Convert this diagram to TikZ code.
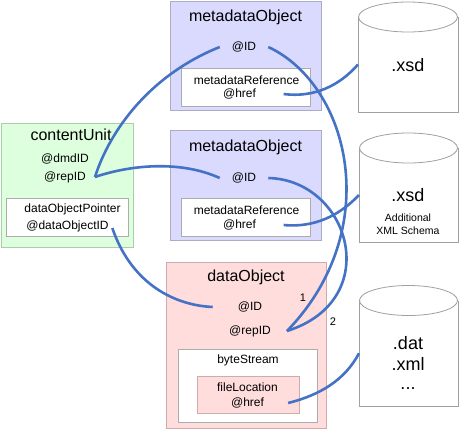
\documentclass[tikz,border=0pt]{standalone}
\usepackage{fontspec}
\setmainfont{Liberation Sans}
\definecolor{linkblue}{RGB}{68,114,196}
\definecolor{moFill}{RGB}{218,218,255}
\definecolor{moLine}{RGB}{172,172,200}
\definecolor{cuFill}{RGB}{221,255,221}
\definecolor{cuLine}{RGB}{172,204,172}
\definecolor{doFill}{RGB}{255,221,221}
\definecolor{doLine}{RGB}{204,172,172}
\definecolor{inLine}{RGB}{172,172,172}
\definecolor{cylLine}{RGB}{160,160,160}
\begin{document}
\begin{tikzpicture}[x=1pt,y=-1pt,
  box/.style={line width=1pt, inner sep=0pt, anchor=north west},
  mobox/.style={box, fill=moFill, draw=moLine},
  cubox/.style={box, fill=cuFill, draw=cuLine},
  dobox/.style={box, fill=doFill, draw=doLine},
  whitebox/.style={box, fill=white, draw=inLine},
  cylbody/.style={box, fill=white},
  cylline/.style={draw=cylLine, line width=0.8pt},
  title/.style={font=\fontsize{16}{18}\selectfont, inner sep=0pt},
  attr/.style={font=\fontsize{12}{14}\selectfont, inner sep=0pt},
  big/.style={font=\fontsize{18}{20}\selectfont, inner sep=0pt},
  small/.style={font=\fontsize{10.5}{12}\selectfont, inner sep=0pt},
  num/.style={font=\fontsize{11}{13}\selectfont, inner sep=0pt},
  link/.style={draw=linkblue, line width=2.6pt}
]
\useasboundingbox (0,0) rectangle (459,429);

% metadataObject 1
\node[mobox, minimum width=151pt, minimum height=109pt] (mo1) at (170,1) {};
\node[title] (mo1t) at (245.5,17) {metadataObject};
\node[attr, inner xsep=12pt] (mo1id) at (244,47) {@ID};
\node[whitebox, minimum width=129pt, minimum height=38pt] (mo1r) at (181,68) {};
\node[attr] (mo1rt) at (246.5,80) {metadataReference};
\node[attr] (mo1h) at (239.5,94) {@href};

% metadataObject 2
\node[mobox, minimum width=151pt, minimum height=110pt] (mo2) at (170,130) {};
\node[title] (mo2t) at (245.5,147) {metadataObject};
\node[attr, inner xsep=12pt] (mo2id) at (244,178) {@ID};
\node[whitebox, minimum width=129pt, minimum height=38pt] (mo2r) at (181,198) {};
\node[attr] (mo2rt) at (246.5,210) {metadataReference};
\node[attr] (mo2h) at (239.5,225) {@href};

% contentUnit
\node[cubox, minimum width=132pt, minimum height=124pt] (cu) at (1,123) {};
\node[title] (cut) at (71,135) {contentUnit};
\node[attr] (cudmd) at (65,159) {@dmdID};
\node[attr, inner xsep=9pt] (curep) at (65,177) {@repID};
\node[whitebox, minimum width=122pt, minimum height=38pt] (cup) at (6,198) {};
\node[attr] (cupt) at (72.5,209) {dataObjectPointer};
\node[attr] (cudo) at (67.5,226) {@dataObjectID};

% dataObject
\node[dobox, minimum width=160pt, minimum height=166pt] (do) at (166,262) {};
\node[title] (dot) at (246,277) {dataObject};
\node[attr, inner xsep=25pt] (doid) at (250,307) {@ID};
\node[attr, inner xsep=16pt] (dorep) at (250,331) {@repID};
\node[whitebox, minimum width=139pt, minimum height=73pt] (bs) at (178,349) {};
\node[attr] (bst) at (248,360) {byteStream};
\node[dobox, minimum width=102pt, minimum height=37pt] (fl) at (197,376) {};
\node[attr] (flt) at (247.5,387) {fileLocation};
\node[attr, inner xsep=24pt] (flh) at (247.5,403) {@href};
\node[num] (n1) at (303,298) {1};
\node[num] (n2) at (333,322) {2};

% cylinders
\node[cylbody, minimum width=99pt, minimum height=94pt] (cy1) at (358,17) {};
\draw[cylline] (cy1.north west) -- (cy1.south west) -- (cy1.south east) -- (cy1.north east);
\draw[cylline, fill=white] (cy1.north) ellipse [x radius=49.5pt, y radius=15pt];
\node[big] (cy1t) at (408,65) {.xsd};

\node[cylbody, minimum width=98pt, minimum height=93pt] (cy2) at (359,148) {};
\draw[cylline] (cy2.north west) -- (cy2.south west) -- (cy2.south east) -- (cy2.north east);
\draw[cylline, fill=white] (cy2.north) ellipse [x radius=49pt, y radius=15pt];
\node[big] (cy2t) at (408,195) {.xsd};
\node[small] (cy2a) at (408,218) {Additional};
\node[small] (cy2b) at (408,231) {XML Schema};

\node[cylbody, minimum width=98pt, minimum height=104.5pt] (cy3) at (359,300.5) {};
\draw[cylline] (cy3.north west) -- (cy3.south west) -- (cy3.south east) -- (cy3.north east);
\draw[cylline, fill=white] (cy3.north) ellipse [x radius=49pt, y radius=15pt];
\node[big] (cy3a) at (408,343) {.dat};
\node[big] (cy3b) at (408,364) {.xml};
\node[big] (cy3c) at (408,389) {...};

% links
\draw[link] (mo1id.west) .. controls (150,75) and (110,130) .. (curep.east);
\draw[link] (curep.east) .. controls (130,165) and (180,160) .. (mo2id.west);
\draw[link] (mo1id.east) .. controls (350,85) and (385,230) .. (dorep.east);
\draw[link] (mo2id.east) .. controls (350,180) and (385,300) .. (dorep.east);
\draw[link] ([xshift=27.5pt]mo1h.east) .. controls (315,98) and (340,85) .. (cy1.west);
\draw[link] ([xshift=27.5pt]mo2h.east) .. controls (315,228) and (340,215) .. (cy2.west);
\draw[link] ([xshift=3.5pt,yshift=-2pt]cudo.east) .. controls (130,280) and (170,305) .. (doid.west);
\draw[link] (flh.east) .. controls (320,395) and (345,380) .. (cy3.west);
\end{tikzpicture}
\end{document}
